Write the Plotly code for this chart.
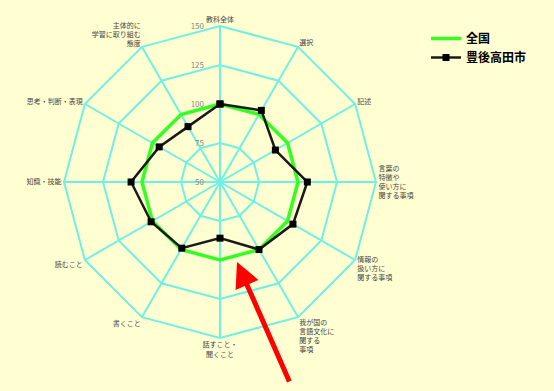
import plotly.graph_objects as go

categories = [
    "教科全体",
    "選択",
    "記述",
    "言葉の<br>特徴や<br>使い方に<br>関する事項",
    "情報の<br>扱い方に<br>関する事項",
    "我が国の<br>言語文化に<br>関する<br>事項",
    "話すこと・<br>聞くこと",
    "書くこと",
    "読むこと",
    "知識・技能",
    "思考・判断・表現",
    "主体的に<br>学習に取り組む<br>態度",
]
national = [100, 100, 100, 100, 100, 100, 100, 100, 100, 100, 100, 100]
city = [100, 103, 91, 106, 104, 100, 86, 99, 101, 107, 95, 91]
radial_ticks = [50, 75, 100, 125, 150]

GRID = "#6FF0E4"
BG = "#FFFFD2"

theta = categories + categories[:1]

fig = go.Figure()
fig.add_trace(go.Scatterpolar(
    r=national + national[:1], theta=theta, name="<b>全国</b>",
    mode="lines", line=dict(color="#33FF22", width=3.5),
))
fig.add_trace(go.Scatterpolar(
    r=city + city[:1], theta=theta, name="<b>豊後高田市</b>",
    mode="lines+markers", line=dict(color="#1A1A1A", width=2.5),
    marker=dict(symbol="square", size=7, color="#000000"),
))

W, H = 554, 391
cx, cy, R = 220, 182, 156
pad = "\u00a0" * 8
fig.update_layout(
    width=W, height=H,
    margin=dict(l=0, r=0, t=0, b=0),
    paper_bgcolor=BG,
    font=dict(family="Noto Sans CJK JP", color="#333333"),
    polar=dict(
        domain=dict(x=[(cx - R) / W, (cx + R) / W], y=[1 - (cy + R) / H, 1 - (cy - R) / H]),
        bgcolor=BG,
        gridshape="linear",
        angularaxis=dict(
            rotation=90, direction="clockwise",
            gridcolor=GRID, gridwidth=2,
            linecolor=GRID, linewidth=2,
            showline=True, ticks="",
            tickfont=dict(size=7, color="#444444"),
        ),
        radialaxis=dict(
            range=[50, 150], tickvals=radial_ticks,
            ticktext=[str(v) + pad for v in radial_ticks],
            angle=90, side="counterclockwise", tickangle=90,
            gridcolor=GRID, gridwidth=2,
            showline=False, ticks="",
            tickfont=dict(size=8, color="#888888"),
        ),
    ),
    legend=dict(
        x=426 / W, y=1 - 24 / H, xanchor="left", yanchor="top",
        bgcolor="rgba(0,0,0,0)",
        font=dict(size=12, color="#000000", family="Noto Sans CJK JP"),
        itemwidth=30,
    ),
    annotations=[dict(
        x=237 / W, y=1 - 262 / H, xref="paper", yref="paper",
        ax=53, ay=121, axref="pixel", ayref="pixel",
        showarrow=True, arrowhead=2, arrowsize=1, arrowwidth=5,
        arrowcolor="#FF0000", text="",
    )],
)

fig.write_html("out.html")
